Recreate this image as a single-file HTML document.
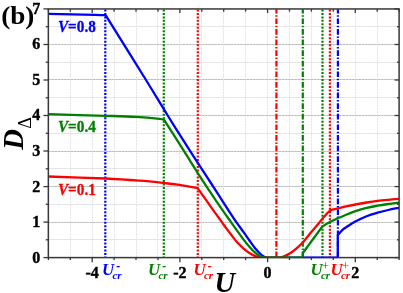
<!DOCTYPE html><html><head><meta charset="utf-8"><style>html,body{margin:0;padding:0;background:#fff;overflow:hidden}svg{display:block;will-change:transform}text{font-family:"Liberation Serif",serif;font-weight:bold}</style></head><body>
<svg width="403" height="293" viewBox="0 0 403 293">
<rect width="403" height="293" fill="#fff"/>
<g stroke-width="1" fill="none"><line x1="70.5" y1="8.95" x2="70.5" y2="257.6" stroke="#f7f7f7"/><line x1="92.5" y1="8.95" x2="92.5" y2="257.6" stroke="#f7f7f7"/><line x1="114.5" y1="8.95" x2="114.5" y2="257.6" stroke="#f7f7f7"/><line x1="136.5" y1="8.95" x2="136.5" y2="257.6" stroke="#f7f7f7"/><line x1="157.5" y1="8.95" x2="157.5" y2="257.6" stroke="#f7f7f7"/><line x1="179.5" y1="8.95" x2="179.5" y2="257.6" stroke="#f7f7f7"/><line x1="201.5" y1="8.95" x2="201.5" y2="257.6" stroke="#f7f7f7"/><line x1="223.5" y1="8.95" x2="223.5" y2="257.6" stroke="#f7f7f7"/><line x1="245.5" y1="8.95" x2="245.5" y2="257.6" stroke="#f7f7f7"/><line x1="267.5" y1="8.95" x2="267.5" y2="257.6" stroke="#f7f7f7"/><line x1="289.5" y1="8.95" x2="289.5" y2="257.6" stroke="#f7f7f7"/><line x1="311.5" y1="8.95" x2="311.5" y2="257.6" stroke="#f7f7f7"/><line x1="333.5" y1="8.95" x2="333.5" y2="257.6" stroke="#f7f7f7"/><line x1="355.5" y1="8.95" x2="355.5" y2="257.6" stroke="#f7f7f7"/><line x1="377.5" y1="8.95" x2="377.5" y2="257.6" stroke="#f7f7f7"/><line x1="48.35" y1="239.5" x2="399.1" y2="239.5" stroke="#f0f0f0"/><line x1="48.35" y1="222.5" x2="399.1" y2="222.5" stroke="#d8d8d8"/><line x1="48.35" y1="204.5" x2="399.1" y2="204.5" stroke="#f0f0f0"/><line x1="48.35" y1="186.5" x2="399.1" y2="186.5" stroke="#d8d8d8"/><line x1="48.35" y1="168.5" x2="399.1" y2="168.5" stroke="#f0f0f0"/><line x1="48.35" y1="151.5" x2="399.1" y2="151.5" stroke="#d8d8d8"/><line x1="48.35" y1="133.5" x2="399.1" y2="133.5" stroke="#f0f0f0"/><line x1="48.35" y1="115.5" x2="399.1" y2="115.5" stroke="#d8d8d8"/><line x1="48.35" y1="97.5" x2="399.1" y2="97.5" stroke="#f0f0f0"/><line x1="48.35" y1="79.5" x2="399.1" y2="79.5" stroke="#d8d8d8"/><line x1="48.35" y1="62.5" x2="399.1" y2="62.5" stroke="#f0f0f0"/><line x1="48.35" y1="44.5" x2="399.1" y2="44.5" stroke="#d8d8d8"/><line x1="48.35" y1="26.5" x2="399.1" y2="26.5" stroke="#f0f0f0"/></g>
<g stroke-width="1" stroke-dasharray="2,1.2" fill="none"><line x1="70.5" y1="8.95" x2="70.5" y2="257.6" stroke="#e5e5e5"/><line x1="92.5" y1="8.95" x2="92.5" y2="257.6" stroke="#e5e5e5"/><line x1="114.5" y1="8.95" x2="114.5" y2="257.6" stroke="#e5e5e5"/><line x1="136.5" y1="8.95" x2="136.5" y2="257.6" stroke="#e5e5e5"/><line x1="157.5" y1="8.95" x2="157.5" y2="257.6" stroke="#e5e5e5"/><line x1="179.5" y1="8.95" x2="179.5" y2="257.6" stroke="#e5e5e5"/><line x1="201.5" y1="8.95" x2="201.5" y2="257.6" stroke="#e5e5e5"/><line x1="223.5" y1="8.95" x2="223.5" y2="257.6" stroke="#e5e5e5"/><line x1="245.5" y1="8.95" x2="245.5" y2="257.6" stroke="#e5e5e5"/><line x1="267.5" y1="8.95" x2="267.5" y2="257.6" stroke="#e5e5e5"/><line x1="289.5" y1="8.95" x2="289.5" y2="257.6" stroke="#e5e5e5"/><line x1="311.5" y1="8.95" x2="311.5" y2="257.6" stroke="#e5e5e5"/><line x1="333.5" y1="8.95" x2="333.5" y2="257.6" stroke="#e5e5e5"/><line x1="355.5" y1="8.95" x2="355.5" y2="257.6" stroke="#e5e5e5"/><line x1="377.5" y1="8.95" x2="377.5" y2="257.6" stroke="#e5e5e5"/><line x1="48.35" y1="239.5" x2="399.1" y2="239.5" stroke="#dfdfdf"/><line x1="48.35" y1="222.5" x2="399.1" y2="222.5" stroke="#bababa"/><line x1="48.35" y1="204.5" x2="399.1" y2="204.5" stroke="#dfdfdf"/><line x1="48.35" y1="186.5" x2="399.1" y2="186.5" stroke="#bababa"/><line x1="48.35" y1="168.5" x2="399.1" y2="168.5" stroke="#dfdfdf"/><line x1="48.35" y1="151.5" x2="399.1" y2="151.5" stroke="#bababa"/><line x1="48.35" y1="133.5" x2="399.1" y2="133.5" stroke="#dfdfdf"/><line x1="48.35" y1="115.5" x2="399.1" y2="115.5" stroke="#bababa"/><line x1="48.35" y1="97.5" x2="399.1" y2="97.5" stroke="#dfdfdf"/><line x1="48.35" y1="79.5" x2="399.1" y2="79.5" stroke="#bababa"/><line x1="48.35" y1="62.5" x2="399.1" y2="62.5" stroke="#dfdfdf"/><line x1="48.35" y1="44.5" x2="399.1" y2="44.5" stroke="#bababa"/><line x1="48.35" y1="26.5" x2="399.1" y2="26.5" stroke="#dfdfdf"/></g>
<clipPath id="cp"><rect x="48.35" y="8.95" width="350.75" height="248.65000000000003"/></clipPath>
<line x1="105.3" y1="258.5" x2="105.3" y2="9.25" stroke="#0000ff" stroke-width="2.2" stroke-dasharray="2,1.48" clip-path="url(#cp)"/>
<line x1="163.8" y1="258.5" x2="163.8" y2="9.25" stroke="#008000" stroke-width="2.2" stroke-dasharray="2,1.48" clip-path="url(#cp)"/>
<line x1="197.8" y1="258.5" x2="197.8" y2="9.25" stroke="#ff0000" stroke-width="2.2" stroke-dasharray="2,1.48" clip-path="url(#cp)"/>
<line x1="276.4" y1="257.3" x2="276.4" y2="9.25" stroke="#ff0000" stroke-width="2.2" stroke-dasharray="5.7,1.7,1.5,1.7" clip-path="url(#cp)"/>
<line x1="302.8" y1="257.3" x2="302.8" y2="9.25" stroke="#008000" stroke-width="2.2" stroke-dasharray="5.7,1.7,1.5,1.7" clip-path="url(#cp)"/>
<line x1="322.5" y1="258.5" x2="322.5" y2="9.25" stroke="#008000" stroke-width="2.2" stroke-dasharray="2,1.48" clip-path="url(#cp)"/>
<line x1="329.9" y1="258.5" x2="329.9" y2="9.25" stroke="#ff0000" stroke-width="2.2" stroke-dasharray="2,1.48" clip-path="url(#cp)"/>
<line x1="337.9" y1="257.3" x2="337.9" y2="9.25" stroke="#0000ff" stroke-width="2.2" stroke-dasharray="5.7,1.7,1.5,1.7" clip-path="url(#cp)"/>
<g fill="none" stroke-width="2.3" stroke-linejoin="round" clip-path="url(#cp)">
<path d="M48.35,13.90C56.12,14.05 85.49,14.58 95.00,14.80C104.51,15.02 103.67,15.13 105.40,15.20L105.90,15.70C112.58,26.42 135.70,63.37 146.00,80.00C156.30,96.63 160.33,103.63 167.70,115.50C175.07,127.37 183.22,140.28 190.20,151.20C197.18,162.12 204.37,172.93 209.60,181.00C214.83,189.07 217.32,193.00 221.60,199.60C225.88,206.20 231.67,215.22 235.30,220.60C238.93,225.98 240.98,228.50 243.40,231.90C245.82,235.30 247.70,238.10 249.80,241.00C251.90,243.90 254.13,247.05 256.00,249.30C257.87,251.55 259.55,253.22 261.00,254.50C262.45,255.78 263.62,256.47 264.70,257.00C265.78,257.53 266.45,257.58 267.50,257.70C268.55,257.82 270.42,257.70 271.00,257.70L337.80,257.70C337.80,253.95 337.80,238.95 337.80,235.20L337.80,235.20C338.50,234.38 340.30,231.83 342.00,230.30C343.70,228.77 345.77,227.47 348.00,226.00C350.23,224.53 352.30,223.13 355.40,221.50C358.50,219.87 362.93,217.67 366.60,216.20C370.27,214.73 373.80,213.73 377.40,212.70C381.00,211.67 384.58,210.82 388.20,210.00C391.82,209.18 397.28,208.17 399.10,207.80" stroke="#0000ff"/>
<path d="M48.35,176.50C57.88,176.83 90.22,177.80 105.50,178.50C120.78,179.20 130.30,179.95 140.00,180.70C149.70,181.45 157.12,182.30 163.70,183.00C170.28,183.70 174.88,184.25 179.50,184.90C184.12,185.55 188.40,186.37 191.40,186.90C194.40,187.43 196.48,187.90 197.50,188.10L197.80,188.40C199.72,191.10 205.53,199.30 209.30,204.60C213.07,209.90 217.78,216.55 220.40,220.20C223.02,223.85 223.20,224.07 225.00,226.50C226.80,228.93 229.13,232.12 231.20,234.80C233.27,237.48 235.33,240.30 237.40,242.60C239.47,244.90 241.53,246.82 243.60,248.60C245.67,250.38 247.73,252.00 249.80,253.30C251.87,254.60 254.22,255.67 256.00,256.40C257.78,257.13 258.83,257.48 260.50,257.70C262.17,257.92 263.67,257.70 266.00,257.70C268.33,257.70 272.25,257.70 274.50,257.70C276.75,257.70 277.90,257.92 279.50,257.70C281.10,257.48 282.33,257.13 284.10,256.40C285.87,255.67 288.07,254.60 290.10,253.30C292.13,252.00 294.23,250.35 296.30,248.60C298.37,246.85 300.43,245.03 302.50,242.80C304.57,240.57 306.58,237.75 308.70,235.20C310.82,232.65 312.88,230.27 315.20,227.50C317.52,224.73 320.60,220.98 322.60,218.60C324.60,216.22 326.07,214.43 327.20,213.20C328.33,211.97 328.67,211.75 329.40,211.20C330.13,210.65 330.75,210.25 331.60,209.90C332.45,209.55 333.47,209.37 334.50,209.10C335.53,208.83 336.05,208.70 337.80,208.30C339.55,207.90 342.07,207.33 345.00,206.70C347.93,206.07 351.80,205.20 355.40,204.50C359.00,203.80 362.93,203.10 366.60,202.50C370.27,201.90 373.80,201.35 377.40,200.90C381.00,200.45 384.58,200.13 388.20,199.80C391.82,199.47 397.28,199.05 399.10,198.90" stroke="#ff0000"/>
<path d="M48.35,114.20C57.88,114.47 90.94,115.35 105.50,115.80C120.06,116.25 126.70,116.40 135.70,116.90C144.70,117.40 154.78,118.32 159.50,118.80C164.22,119.28 163.25,119.63 164.00,119.80L164.40,120.30C167.70,125.48 177.77,141.25 184.20,151.40C190.63,161.55 197.53,172.75 203.00,181.20C208.47,189.65 212.45,195.43 217.00,202.10C221.55,208.77 226.90,216.35 230.30,221.20C233.70,226.05 235.18,228.13 237.40,231.20C239.62,234.27 241.53,236.93 243.60,239.60C245.67,242.27 247.73,244.90 249.80,247.20C251.87,249.50 254.13,251.83 256.00,253.40C257.87,254.97 259.67,255.88 261.00,256.60C262.33,257.32 262.83,257.52 264.00,257.70C265.17,257.88 267.33,257.70 268.00,257.70L302.80,257.70C302.82,256.92 302.88,253.78 302.90,253.00L302.90,253.00C303.82,251.73 306.40,248.13 308.40,245.40C310.40,242.67 312.67,239.63 314.90,236.60C317.13,233.57 320.65,228.77 321.80,227.20L322.80,226.20C324.00,225.50 327.50,223.32 330.00,222.00C332.50,220.68 335.30,219.43 337.80,218.30C340.30,217.17 342.07,216.38 345.00,215.20C347.93,214.02 351.80,212.42 355.40,211.20C359.00,209.98 362.93,208.82 366.60,207.90C370.27,206.98 373.80,206.35 377.40,205.70C381.00,205.05 384.58,204.52 388.20,204.00C391.82,203.48 397.28,202.83 399.10,202.60" stroke="#008000"/>
</g>
<rect x="48.35" y="8.95" width="350.75" height="248.65000000000003" fill="none" stroke="#383838" stroke-width="1.5"/>
<g stroke="#383838" stroke-width="1.3"><line x1="43.45" y1="257.6" x2="48.35" y2="257.6"/><line x1="394.6" y1="257.6" x2="399.1" y2="257.6"/><line x1="45.75" y1="239.8" x2="48.35" y2="239.8"/><line x1="396.90000000000003" y1="239.8" x2="399.1" y2="239.8"/><line x1="43.45" y1="222.1" x2="48.35" y2="222.1"/><line x1="394.6" y1="222.1" x2="399.1" y2="222.1"/><line x1="45.75" y1="204.3" x2="48.35" y2="204.3"/><line x1="396.90000000000003" y1="204.3" x2="399.1" y2="204.3"/><line x1="43.45" y1="186.6" x2="48.35" y2="186.6"/><line x1="394.6" y1="186.6" x2="399.1" y2="186.6"/><line x1="45.75" y1="168.8" x2="48.35" y2="168.8"/><line x1="396.90000000000003" y1="168.8" x2="399.1" y2="168.8"/><line x1="43.45" y1="151.0" x2="48.35" y2="151.0"/><line x1="394.6" y1="151.0" x2="399.1" y2="151.0"/><line x1="45.75" y1="133.3" x2="48.35" y2="133.3"/><line x1="396.90000000000003" y1="133.3" x2="399.1" y2="133.3"/><line x1="43.45" y1="115.5" x2="48.35" y2="115.5"/><line x1="394.6" y1="115.5" x2="399.1" y2="115.5"/><line x1="45.75" y1="97.8" x2="48.35" y2="97.8"/><line x1="396.90000000000003" y1="97.8" x2="399.1" y2="97.8"/><line x1="43.45" y1="80.0" x2="48.35" y2="80.0"/><line x1="394.6" y1="80.0" x2="399.1" y2="80.0"/><line x1="45.75" y1="62.2" x2="48.35" y2="62.2"/><line x1="396.90000000000003" y1="62.2" x2="399.1" y2="62.2"/><line x1="43.45" y1="44.5" x2="48.35" y2="44.5"/><line x1="394.6" y1="44.5" x2="399.1" y2="44.5"/><line x1="45.75" y1="26.7" x2="48.35" y2="26.7"/><line x1="396.90000000000003" y1="26.7" x2="399.1" y2="26.7"/><line x1="43.45" y1="8.9" x2="48.35" y2="8.9"/><line x1="394.6" y1="8.9" x2="399.1" y2="8.9"/><line x1="48.4" y1="257.6" x2="48.4" y2="260.1"/><line x1="48.4" y1="8.95" x2="48.4" y2="11.649999999999999"/><line x1="70.3" y1="257.6" x2="70.3" y2="260.1"/><line x1="70.3" y1="8.95" x2="70.3" y2="11.649999999999999"/><line x1="92.2" y1="257.6" x2="92.2" y2="262.20000000000005"/><line x1="92.2" y1="8.95" x2="92.2" y2="12.95"/><line x1="114.1" y1="257.6" x2="114.1" y2="260.1"/><line x1="114.1" y1="8.95" x2="114.1" y2="11.649999999999999"/><line x1="136.0" y1="257.6" x2="136.0" y2="260.1"/><line x1="136.0" y1="8.95" x2="136.0" y2="11.649999999999999"/><line x1="158.0" y1="257.6" x2="158.0" y2="260.1"/><line x1="158.0" y1="8.95" x2="158.0" y2="11.649999999999999"/><line x1="179.9" y1="257.6" x2="179.9" y2="262.20000000000005"/><line x1="179.9" y1="8.95" x2="179.9" y2="12.95"/><line x1="201.8" y1="257.6" x2="201.8" y2="260.1"/><line x1="201.8" y1="8.95" x2="201.8" y2="11.649999999999999"/><line x1="223.7" y1="257.6" x2="223.7" y2="260.1"/><line x1="223.7" y1="8.95" x2="223.7" y2="11.649999999999999"/><line x1="245.6" y1="257.6" x2="245.6" y2="260.1"/><line x1="245.6" y1="8.95" x2="245.6" y2="11.649999999999999"/><line x1="267.6" y1="257.6" x2="267.6" y2="262.20000000000005"/><line x1="267.6" y1="8.95" x2="267.6" y2="12.95"/><line x1="289.5" y1="257.6" x2="289.5" y2="260.1"/><line x1="289.5" y1="8.95" x2="289.5" y2="11.649999999999999"/><line x1="311.4" y1="257.6" x2="311.4" y2="260.1"/><line x1="311.4" y1="8.95" x2="311.4" y2="11.649999999999999"/><line x1="333.3" y1="257.6" x2="333.3" y2="260.1"/><line x1="333.3" y1="8.95" x2="333.3" y2="11.649999999999999"/><line x1="355.3" y1="257.6" x2="355.3" y2="262.20000000000005"/><line x1="355.3" y1="8.95" x2="355.3" y2="12.95"/><line x1="377.2" y1="257.6" x2="377.2" y2="260.1"/><line x1="377.2" y1="8.95" x2="377.2" y2="11.649999999999999"/><line x1="399.1" y1="257.6" x2="399.1" y2="260.1"/><line x1="399.1" y1="8.95" x2="399.1" y2="11.649999999999999"/></g>
<line x1="266" y1="257.6" x2="302.8" y2="257.6" stroke="#008000" stroke-width="1.5" opacity="0.35"/>
<line x1="302.8" y1="257.6" x2="337.8" y2="257.6" stroke="#0000ff" stroke-width="1.5" opacity="0.45"/>
<text x="40.2" y="262.5" font-size="16" text-anchor="end" fill="#000" stroke="#000" stroke-width="0.4">0</text>
<text x="40.2" y="227.0" font-size="16" text-anchor="end" fill="#000" stroke="#000" stroke-width="0.4">1</text>
<text x="40.2" y="191.5" font-size="16" text-anchor="end" fill="#000" stroke="#000" stroke-width="0.4">2</text>
<text x="40.2" y="155.9" font-size="16" text-anchor="end" fill="#000" stroke="#000" stroke-width="0.4">3</text>
<text x="40.2" y="120.4" font-size="16" text-anchor="end" fill="#000" stroke="#000" stroke-width="0.4">4</text>
<text x="40.2" y="84.9" font-size="16" text-anchor="end" fill="#000" stroke="#000" stroke-width="0.4">5</text>
<text x="40.2" y="49.4" font-size="16" text-anchor="end" fill="#000" stroke="#000" stroke-width="0.4">6</text>
<text x="40.2" y="13.8" font-size="16" text-anchor="end" fill="#000" stroke="#000" stroke-width="0.4">7</text>
<text x="92.2" y="278.2" font-size="16" text-anchor="middle" fill="#000" stroke="#000" stroke-width="0.4">-4</text>
<text x="179.9" y="278.2" font-size="16" text-anchor="middle" fill="#000" stroke="#000" stroke-width="0.4">-2</text>
<text x="267.6" y="278.2" font-size="16" text-anchor="middle" fill="#000" stroke="#000" stroke-width="0.4">0</text>
<text x="355.3" y="278.2" font-size="16" text-anchor="middle" fill="#000" stroke="#000" stroke-width="0.4">2</text>
<text transform="translate(1.2,24.4) scale(1.075,1)" x="0" y="0" font-size="25.3" fill="#000">(b)</text>
<text transform="translate(57.9,32.2) scale(0.937,1)" font-size="16.3" fill="#0000ff" stroke="#0000ff" stroke-width="0.3"><tspan font-style="italic">V</tspan>=0.8</text>
<text transform="translate(57.9,131.9) scale(0.937,1)" font-size="16.3" fill="#008000" stroke="#008000" stroke-width="0.3"><tspan font-style="italic">V</tspan>=0.4</text>
<text transform="translate(57.9,195.2) scale(0.937,1)" font-size="16.3" fill="#ff0000" stroke="#ff0000" stroke-width="0.3"><tspan font-style="italic">V</tspan>=0.1</text>
<text transform="translate(102.0,274.9) scale(1.05,1)" font-size="16" font-style="italic" fill="#0000ff">U</text>
<text x="112.4" y="279.09999999999997" font-size="11" font-style="italic" fill="#0000ff">cr</text>
<text x="116.2" y="269.79999999999995" font-size="12" font-style="italic" fill="#0000ff">-</text>
<text transform="translate(148.0,274.9) scale(1.05,1)" font-size="16" font-style="italic" fill="#008000">U</text>
<text x="158.4" y="279.09999999999997" font-size="11" font-style="italic" fill="#008000">cr</text>
<text x="162.2" y="269.79999999999995" font-size="12" font-style="italic" fill="#008000">-</text>
<text transform="translate(193.5,274.9) scale(1.05,1)" font-size="16" font-style="italic" fill="#ff0000">U</text>
<text x="203.9" y="279.09999999999997" font-size="11" font-style="italic" fill="#ff0000">cr</text>
<text x="207.7" y="269.79999999999995" font-size="12" font-style="italic" fill="#ff0000">-</text>
<text transform="translate(310.5,274.9) scale(1.05,1)" font-size="16" font-style="italic" fill="#008000">U</text>
<text x="320.9" y="279.09999999999997" font-size="11" font-style="italic" fill="#008000">cr</text>
<text x="321.6" y="270.0" font-size="13.5" style="font-weight:normal" fill="#008000">+</text>
<text transform="translate(330.5,274.9) scale(1.05,1)" font-size="16" font-style="italic" fill="#ff0000">U</text>
<text x="340.9" y="279.09999999999997" font-size="11" font-style="italic" fill="#ff0000">cr</text>
<text x="341.6" y="270.0" font-size="13.5" style="font-weight:normal" fill="#ff0000">+</text>
<text x="214.4" y="291.7" font-size="28.5" font-style="italic" fill="#000">U</text>
<g transform="translate(23,149.7) rotate(-90)"><text x="0" y="0" font-size="28.5" font-style="italic" fill="#000">D</text><text x="20.9" y="8" font-size="18" style="font-weight:normal" font-weight="normal" fill="#000">Δ</text></g>
</svg></body></html>
